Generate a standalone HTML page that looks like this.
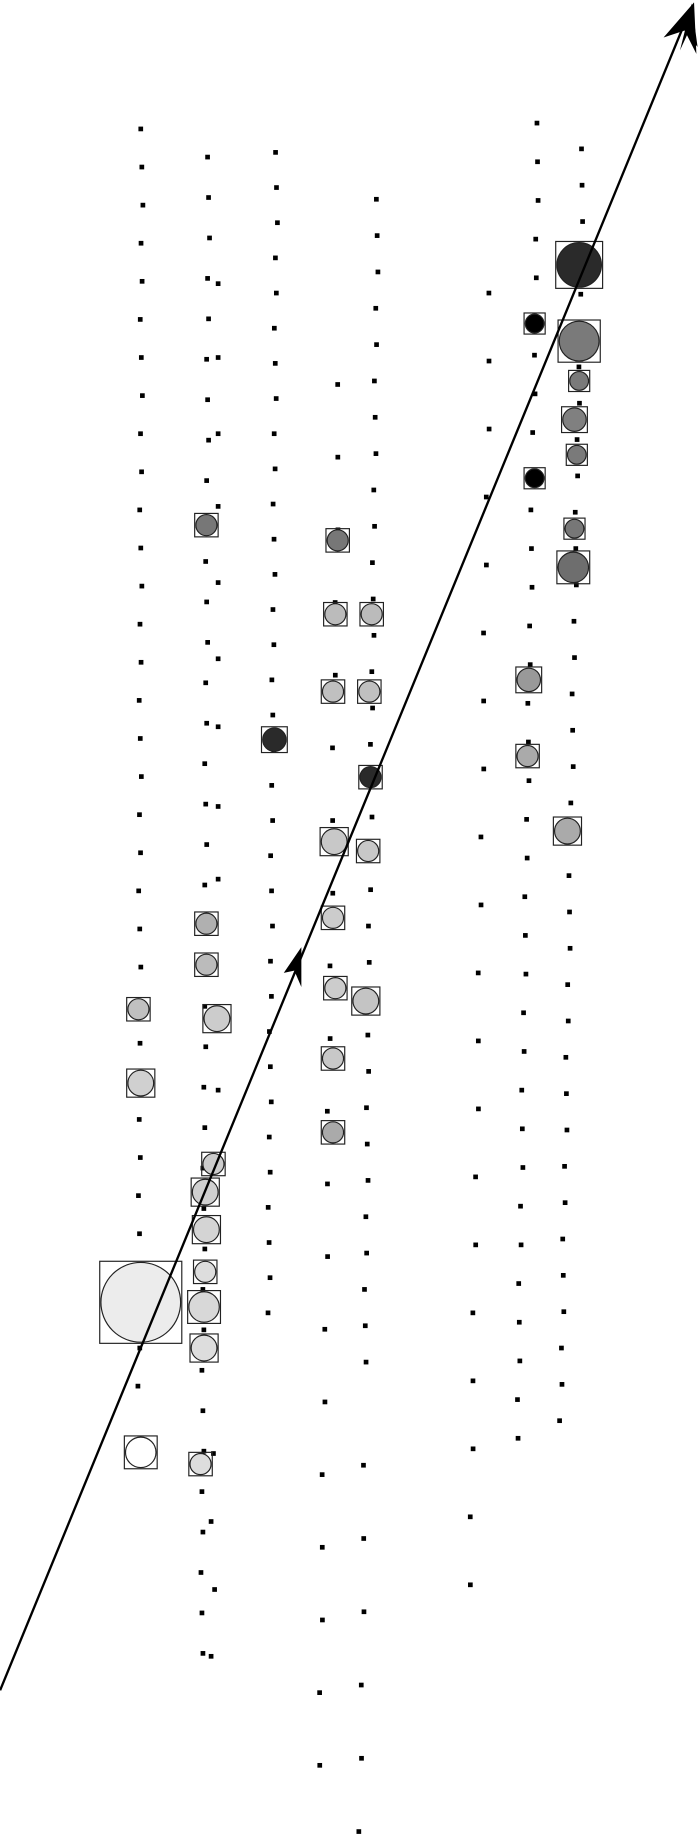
<!DOCTYPE html>
<html><head><meta charset="utf-8"><style>html,body{margin:0;padding:0;background:#fff}svg{display:block}</style></head>
<body>
<svg id="s" width="700" height="1838" viewBox="0 0 597 1568" xmlns="http://www.w3.org/2000/svg">
<g id="dots" fill="#000"></g>
<g id="nodes" stroke="#222" stroke-width="1"></g>
<line x1="0" y1="1442" x2="588" y2="10" stroke="#000" stroke-width="2"/>
<polygon points="590,3 580,43 586,30 595,40" fill="#000"/>
<polygon points="592,2 566,32 584,26 594,46" fill="#000"/>
<polygon points="257,808 242,830 251,828 257,842" fill="#000"/>
</svg>
<script>
var ns="http://www.w3.org/2000/svg";
var D=document.getElementById("dots"),N=document.getElementById("nodes");
function dot(x,y){var r=document.createElementNS(ns,"rect");r.setAttribute("x",x-2);r.setAttribute("y",y-2);r.setAttribute("width",4);r.setAttribute("height",4);D.appendChild(r);}
function col(x0,x1,y0,y1,st){var i=0;for(var y=y0;y<=y1;y+=st){var x=x0+(x1-x0)*(y-y0)/Math.max(1,(y1-y0));dot(x+((i*37)%5-2)*0.5,y);i++;}}
col(121,118,110,1210,32.5);
col(178,172,134,1420,34.5);
col(236,229,130,1130,30);
col(322,311,170,1180,31);
col(311,307,1250,1565,62.5);
col(459,441,105,1250,33);
col(497,478,127,1230,31);
col(418,400,250,1395,58);
col(289,272,328,1520,62);
[[186,242],[186,305],[186,370],[186,432],[186,497],[186,562],[186,620],[186,688],[186,750],[186,930],[182,1240],[180,1298],[183,1356],[180,1413]].forEach(function(p){dot(p[0],p[1]);});
function node(cx,cy,s,fill){var r=document.createElementNS(ns,"rect");r.setAttribute("x",cx-s/2);r.setAttribute("y",cy-s/2);r.setAttribute("width",s);r.setAttribute("height",s);r.setAttribute("fill","none");N.appendChild(r);
var c=document.createElementNS(ns,"circle");c.setAttribute("cx",cx);c.setAttribute("cy",cy);c.setAttribute("r",s/2-1);c.setAttribute("fill",fill);N.appendChild(c);}
[[494,226,40,"#2a2a2a"],[456,276,18,"#000"],[494,291,36,"#7a7a7a"],[494,325,18,"#7a7a7a"],[490,358,22,"#808080"],[492,388,18,"#7a7a7a"],[456,408,18,"#000"],[490,451,18,"#777"],[489,484,28,"#6e6e6e"],
[176,448,20,"#777"],[288,461,20,"#777"],[286,524,20,"#bbb"],[317,524,20,"#bbb"],[284,590,20,"#c0c0c0"],[315,590,20,"#c0c0c0"],[451,580,22,"#999"],[450,645,20,"#aaa"],[234,631,22,"#2a2a2a"],[316,663,20,"#2a2a2a"],[484,709,24,"#aaa"],
[285,718,24,"#c8c8c8"],[314,726,20,"#c8c8c8"],[284,783,20,"#ccc"],[176,788,20,"#b0b0b0"],[176,823,20,"#bbb"],[118,861,20,"#c0c0c0"],[185,869,24,"#ccc"],[286,843,20,"#ccc"],[312,854,24,"#c4c4c4"],[120,924,24,"#d0d0d0"],[284,903,20,"#c8c8c8"],[284,966,20,"#aaa"],
[182,993,20,"#ccc"],[175,1017,24,"#d0d0d0"],[176,1049,24,"#d4d4d4"],[175,1085,20,"#ddd"],[174,1115,28,"#d8d8d8"],[120,1111,70,"#ececec"],[174,1150,24,"#ddd"],[120,1239,28,"#fff"],[171,1249,20,"#ddd"]].forEach(function(a){node(a[0],a[1],a[2],a[3]);});
</script>
</body></html>
